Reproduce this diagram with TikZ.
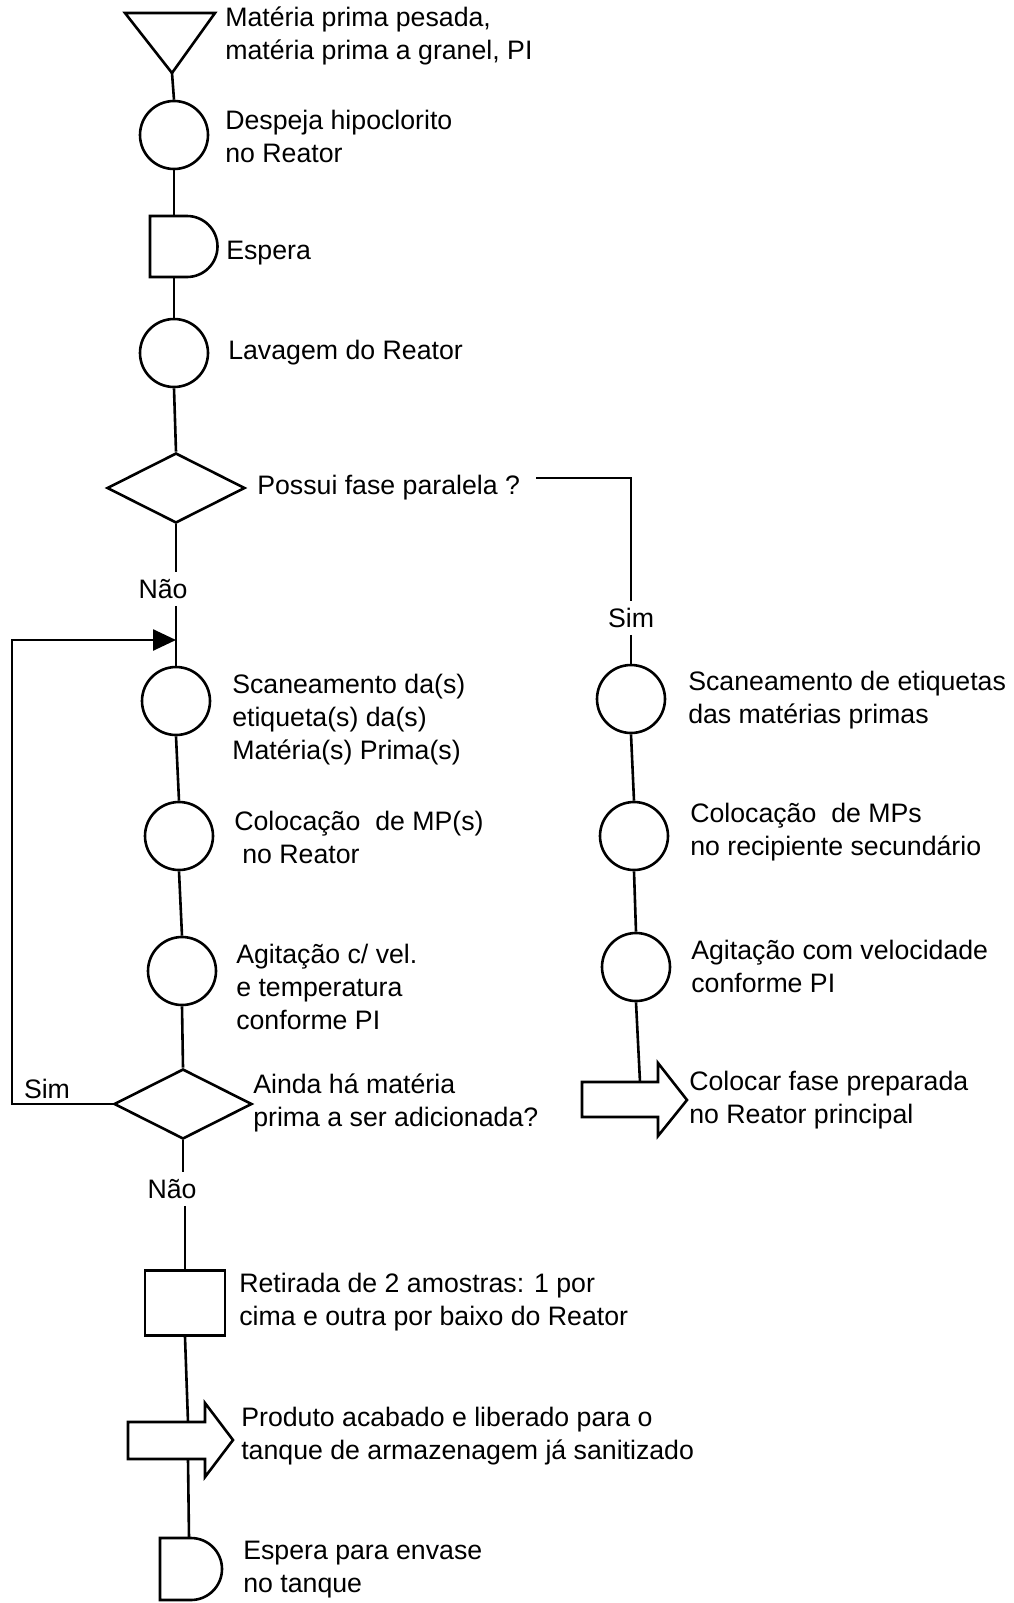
\documentclass[tikz,border=0pt]{standalone}
\usepackage{fontspec}
\setmainfont{Liberation Sans}
\usetikzlibrary{shapes.geometric,arrows.meta}
\begin{document}
\begin{tikzpicture}[x=1pt,y=-1pt,line width=2.6pt,
  txt/.style={anchor=west,align=left,inner sep=0pt,font=\fontsize{26.7}{33}\selectfont},
  lbl/.style={inner xsep=2pt,inner ysep=6pt,text height=19pt,text depth=0pt,font=\fontsize{26.7}{33}\selectfont},
  opc/.style={circle,draw,minimum size=68pt,inner sep=0pt},
  dec/.style={diamond,draw,minimum width=138pt,minimum height=70pt,inner sep=0pt},
  insp/.style={rectangle,draw,minimum width=80pt,minimum height=65pt,inner sep=0pt},
  blk/.style={draw,fill=white,line join=miter},
]
\useasboundingbox (0,0) rectangle (1014,1603);

% storage triangle
\draw[line join=miter] (125,13) -- (215,13) -- (172,73) -- cycle;
\coordinate (tri) at (172,73);
\node[txt] (t1) at (224,36) {Matéria prima pesada,\\matéria prima a granel, PI};

\node[opc] (c1) at (174,135) {};
\node[txt] (t2) at (224,136) {Despeja hipoclorito\\no Reator};
\draw (tri) -- (c1.north);

% delay 1
\draw (150,216) -- (187,216) arc[start angle=90,end angle=-90,radius=30.5pt] -- (150,277) -- cycle;
\coordinate (d1t) at (174,216);
\coordinate (d1b) at (174,277);
\node[txt] (t3) at (225,253) {Espera};
\draw (c1.south) -- (d1t);

\node[opc] (c2) at (174,353) {};
\node[txt] (t4) at (227,353) {Lavagem do Reator};
\draw (d1b) -- (c2.north);

\node[dec] (q1) at (176,488) {};
\node[txt] (t5) at (256,488) {Possui fase paralela ?};
\draw (c2.south) -- (q1.north);

% parallel branch
\node[lbl] (sim1) at (631,618) {Sim};
\coordinate (q1r) at (536,478);
\draw (q1r) -| (sim1.north);

\node[opc] (r1) at (631,699) {};
\node[txt] (t13) at (687,700) {Scaneamento de etiquetas\\das matérias primas};
\draw (sim1.south) -- (r1.north);

\node[opc] (r2) at (634,836) {};
\node[txt] (t14) at (689,832) {Colocação\ \ de MPs\\no recipiente secundário};
\draw (r1.south) -- (r2.north);

\node[opc] (r3) at (636,967) {};
\node[txt] (t15) at (690,966) {Agitação com velocidade\\conforme PI};
\draw (r2.south) -- (r3.north);

\coordinate (rat) at (640,1082);
\draw (r3.south) -- (rat);
\draw[blk] (582,1082) -- (658,1082) -- (658,1063) -- (687,1100) -- (658,1136) -- (658,1117) -- (582,1117) -- cycle;
\node[txt] (t16) at (688,1100) {Colocar fase preparada\\no Reator principal};

% main branch
\node[lbl] (nao1) at (163,589) {Não};
\draw (q1.south) -- (q1.south |- nao1.north);

\node[opc] (c3) at (176,701) {};
\node[txt] (t6) at (231,720) {Scaneamento da(s)\\etiqueta(s) da(s)\\Matéria(s) Prima(s)};
\draw (q1.south |- nao1.south) -- (c3.north);

\node[opc] (c4) at (179,836) {};
\node[txt] (t7) at (233,837) {Colocação\ \ de MP(s)\\\hspace*{8pt}no Reator};
\draw (c3.south) -- (c4.north);

\node[opc] (c5) at (182,971) {};
\node[txt] (t8) at (235,987) {Agitação c/ vel.\\e temperatura\\conforme PI};
\draw (c4.south) -- (c5.north);

\node[dec] (q2) at (183,1104) {};
\node[txt] (t9) at (252,1103) {Ainda há matéria\\prima a ser adicionada?};
\draw (c5.south) -- (q2.north);

% loop back
\node[lbl] (sim2) at (47,1089) {Sim};
\coordinate (lc) at (12,1104);
\coordinate (loopin) at (176,640);
\draw[-{Triangle[length=23pt,width=21pt]}] (q2.west) -- (lc) |- (loopin);

\node[lbl] (nao2) at (172,1189) {Não};
\draw (q2.south) -- (q2.south |- nao2.north);

\node[insp] (sq) at (185,1303) {};
\node[txt] (t10) at (238,1302) {Retirada de 2 amostras: 1 por\\cima e outra por baixo do Reator};
\draw (sq.north |- nao2.south) -- (sq.north);

\coordinate (bat) at (188,1422);
\coordinate (bab) at (188,1459);
\draw (sq.south) -- (bat);
\draw[blk] (128,1422) -- (205,1422) -- (205,1403) -- (233,1440) -- (205,1477) -- (205,1459) -- (128,1459) -- cycle;
\node[txt] (t11) at (240,1436) {Produto acabado e liberado para o\\tanque de armazenagem já sanitizado};

% delay 2
\draw (160,1538) -- (191,1538) arc[start angle=90,end angle=-90,radius=31pt] -- (160,1600) -- cycle;
\coordinate (d2t) at (189,1538);
\draw (bab) -- (d2t);
\node[txt] (t12) at (242,1570) {Espera para envase\\no tanque};
\end{tikzpicture}
\end{document}
